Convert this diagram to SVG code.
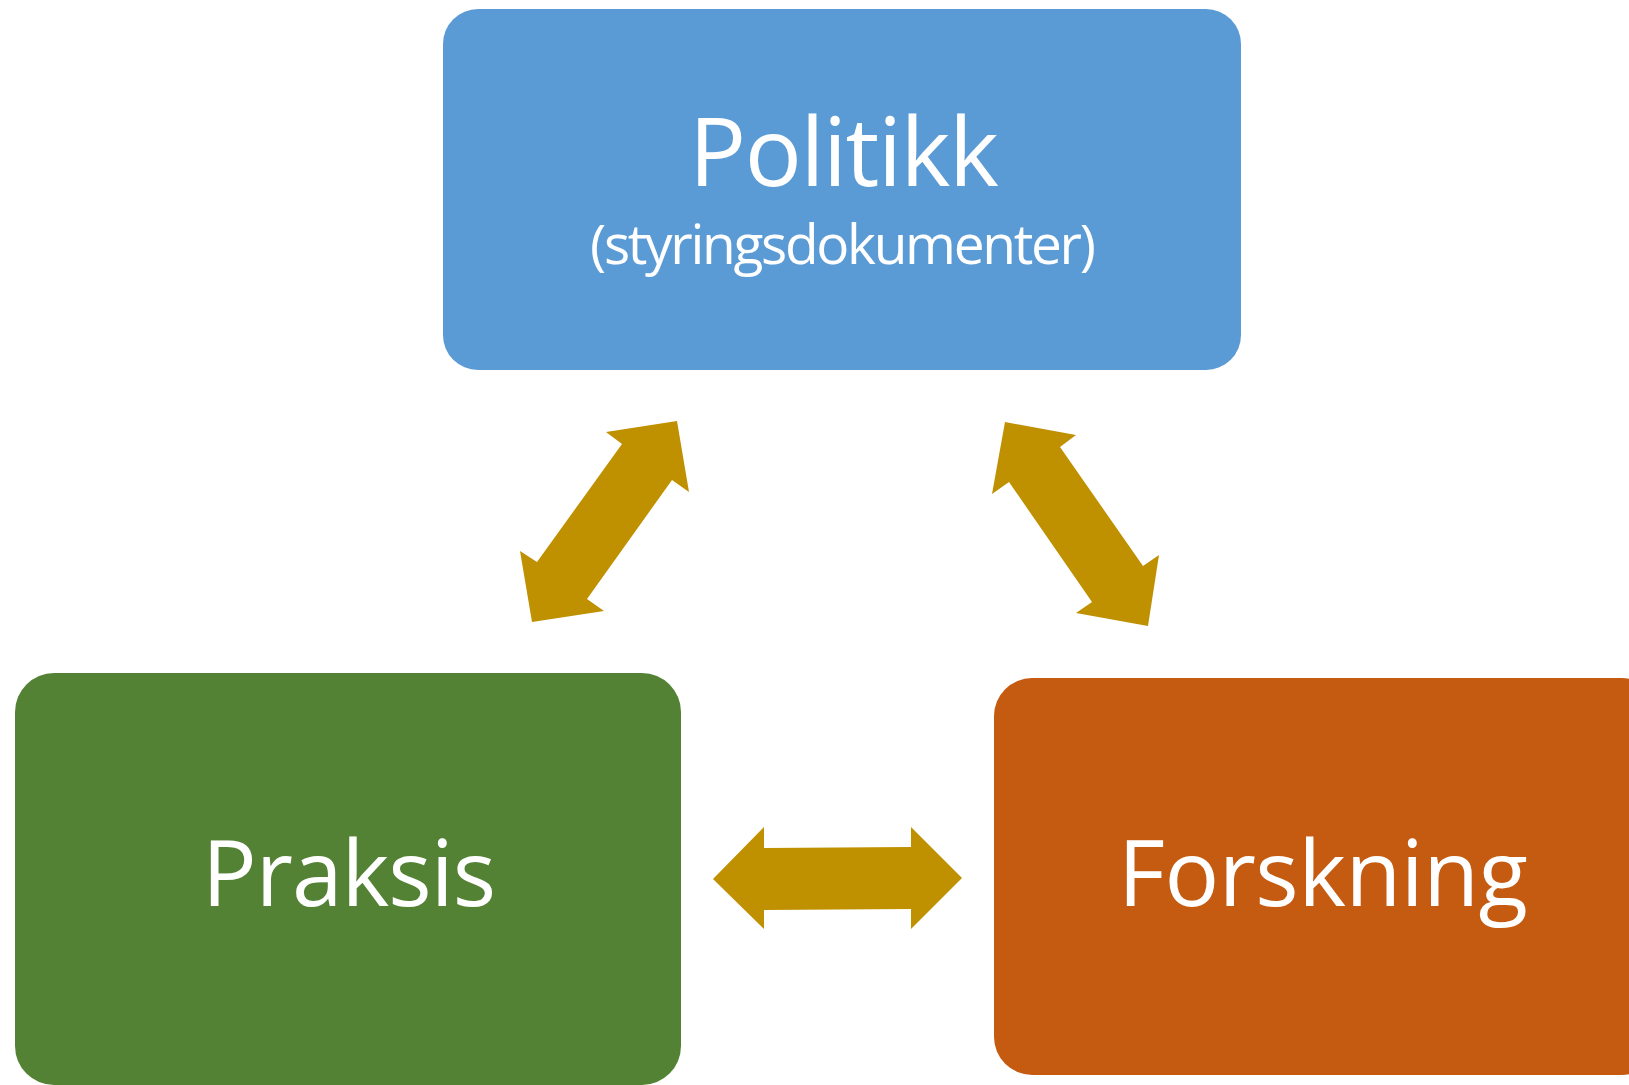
<svg xmlns="http://www.w3.org/2000/svg" width="1629" height="1085" viewBox="0 0 1629 1085">
<style>
.lbl{font-family:"Open Sans","Noto Sans","Liberation Sans",sans-serif;fill:#ffffff;text-anchor:middle}
.arrow{fill:#BF9000}
</style>
<rect width="1629" height="1085" fill="#ffffff"/>
<g id="politikk">
<rect x="443" y="9" width="798" height="361" rx="35" ry="35" fill="#5B9BD5"/>
<text class="lbl" x="844" y="186" font-size="95" textLength="310" lengthAdjust="spacing">Politikk</text>
<text class="lbl" x="843" y="264" font-size="55" textLength="506" lengthAdjust="spacing">(styringsdokumenter)</text>
</g>
<g id="praksis">
<rect x="15" y="673" width="666" height="412" rx="39" ry="39" fill="#548235"/>
<text class="lbl" x="349" y="906" font-size="91" textLength="294" lengthAdjust="spacing">Praksis</text>
</g>
<g id="forskning">
<rect x="994" y="678" width="666" height="397" rx="38" ry="38" fill="#C55A11"/>
<text class="lbl" x="1323" y="906" font-size="91" textLength="410" lengthAdjust="spacing">Forskning</text>
</g>
<g id="connectors">
<polygon class="arrow" points="677,421 689,492 672,480 587,599 604,611 532,622 520,551 537,562 622,444 606,432"/>
<polygon class="arrow" points="1005,422 1076,435 1060,447 1143,566 1159,555 1148,626 1076,613 1092,602 1009,482 992,494"/>
<polygon class="arrow" points="713,879 764,827 764,848 911,847 911,827 962,878 911,929 911,909 764,910 764,929"/>
</g>
</svg>
